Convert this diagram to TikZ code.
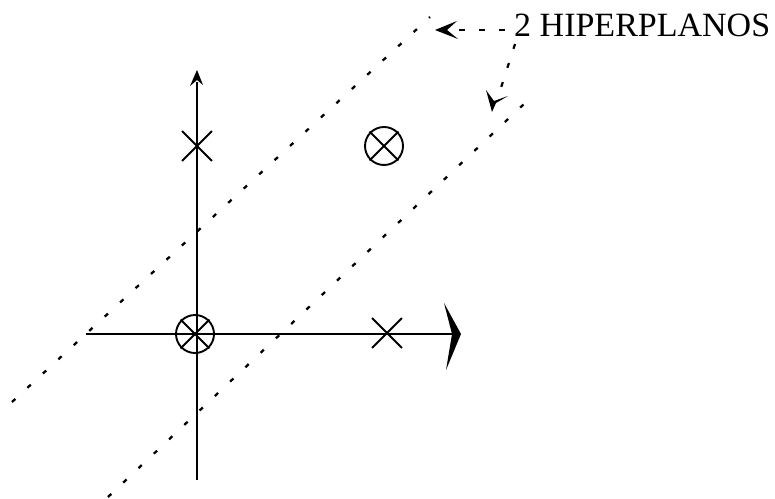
\documentclass[tikz,border=0pt]{standalone}
\usepackage{fontspec}
\setmainfont{Liberation Serif}
\usetikzlibrary{shapes.misc}
\begin{document}
\begin{tikzpicture}[x=1pt,y=-1pt,
  axis/.style={line width=1.9pt},
  xmark/.style={cross out,draw,line width=1.8pt,inner sep=0pt,minimum size=28pt},
  ring/.style={circle,draw,line width=1.9pt,inner sep=0pt,minimum size=38pt},
  ringx/.style={cross out,draw,line width=1.8pt,inner sep=0pt,minimum size=27pt},
  hyper/.style={line width=2.3pt,dash pattern=on 4.5pt off 16.5pt},
  lbl/.style={anchor=base west,inner sep=0pt,font=\fontsize{34}{34}\selectfont}]
\useasboundingbox (0,0) rectangle (775,498);
% axes
\coordinate (vb) at (197,480);
\coordinate (vt) at (197,70);
\coordinate (hl) at (86,334);
\coordinate (hr) at (461,334);
\draw[axis] (vb) -- (197,82);
\fill (vt) -- (203,85) -- (197,80) -- (190,86) -- cycle;
\draw[axis] (hl) -- (453,334);
\fill (hr) -- (444,303) -- (452,334) -- (446,370) -- cycle;
% marks
\node[xmark] (x1) at (197,146) {};
\node[xmark] (x2) at (387,333) {};
\node[ring] (o1) at (195,334) {};
\node[ringx] (o1x) at (195,334) {};
\node[ring] (o2) at (384,146) {};
\node[ringx] (o2x) at (384,146) {};
% hyperplanes
\coordinate (h1a) at (12,402);
\coordinate (h1b) at (430,17);
\coordinate (h2a) at (108,497);
\coordinate (h2b) at (524,104);
\draw[hyper] (h1a) -- (h1b);
\draw[hyper] (h2a) -- (h2b);
% label
\node[lbl] (t) at (514,36) {2 HIPERPLANOS};
\coordinate (a1) at (435,30);
\coordinate (a2) at (492,112);
\draw[line width=1.6pt,dash pattern=on 6pt off 14pt] (505,30) -- (450,30);
\fill (a1) -- (457,21) -- (447,30) -- (458,39) -- cycle;
\draw[line width=2.2pt,dash pattern=on 5pt off 15pt] (515,44) -- (499,94);
\fill (a2) -- (486,90) -- (494,101) -- (508,96) -- (496,103) -- cycle;
\end{tikzpicture}
\end{document}
